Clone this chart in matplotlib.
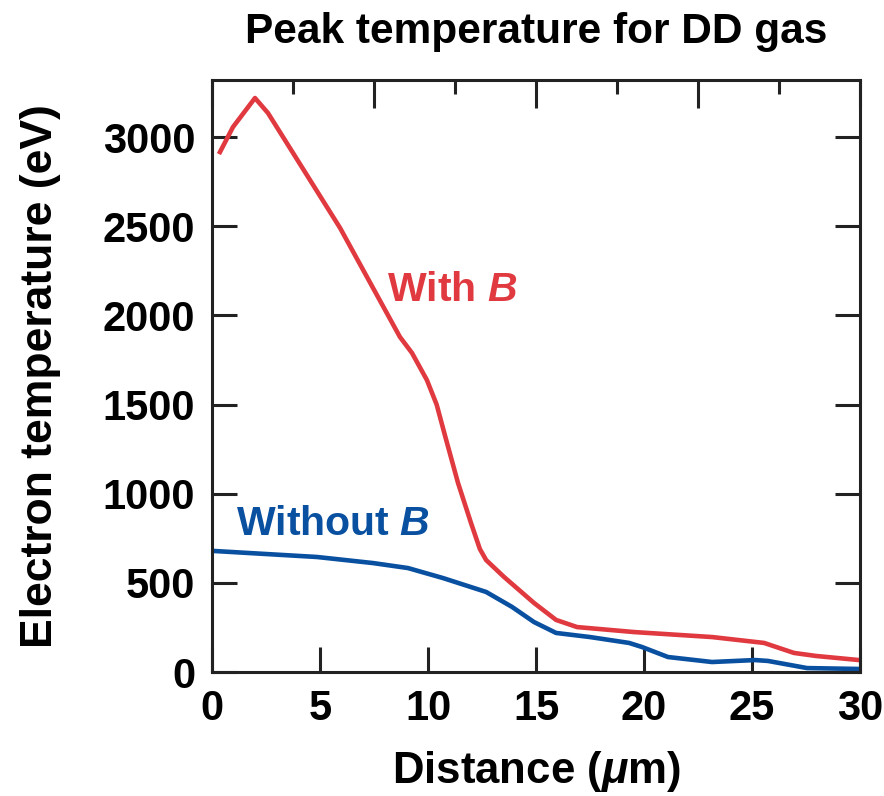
import matplotlib
matplotlib.use("Agg")
import matplotlib.pyplot as plt
import numpy as np

plt.rcParams['font.family'] = ['Liberation Sans', 'DejaVu Sans']
plt.rcParams['font.weight'] = 'bold'
plt.rcParams['mathtext.fontset'] = 'custom'
plt.rcParams['mathtext.it'] = 'Liberation Sans:italic:bold'
plt.rcParams['mathtext.rm'] = 'Liberation Sans:bold'

# with B (red)
x_with = [0.37, 0.97, 1.99, 2.59, 5.93, 8.70, 9.26, 9.95, 10.4, 10.8, 11.39, 11.99,
          12.4, 12.69, 13.52, 14.91, 15.93, 16.9, 19.54, 23.15, 25.56, 26.94, 27.96, 29.95]
t_with = [2916, 3056, 3219, 3135, 2490, 1879, 1789, 1637, 1500, 1320, 1060, 836,
          690, 628, 533, 387, 292, 252, 224, 196, 163, 107, 90, 67]

# without B (blue)
x_without = [0.05, 4.86, 7.45, 9.07, 10.69, 12.69, 13.89, 14.91, 15.93, 17.5,
             19.31, 19.91, 21.11, 23.15, 25.14, 25.74, 27.55, 29.95]
t_without = [679, 645, 611, 583, 527, 449, 365, 280, 219, 196,
             163, 140, 84, 56, 67, 62, 22, 17]

red = '#e03a40'
blue = '#0a50a0'

fig = plt.figure(figsize=(8.84, 7.96), dpi=100)
ax = fig.add_axes([212/884, 1 - 672/796, (860-212)/884, (672-80)/796])

ax.plot(x_with, t_with, color=red, lw=3.3, solid_joinstyle='round')
ax.plot(x_without, t_without, color=blue, lw=3.3, solid_joinstyle='round')

ax.set_xlim(0, 30)
ax.set_ylim(0, 3320)
ax.set_xticks(np.arange(0, 31, 5))
ax.set_yticks(np.arange(0, 3001, 500))

for sp in ax.spines.values():
    sp.set_linewidth(2.2)
    sp.set_color('#222222')

ax.tick_params(axis='both', which='major', direction='in', length=18, width=2.2,
               labelsize=30, pad=12, color='#222222', right=True)
ax.tick_params(axis='x', top=False)

top = ax.twiny()
top.set_xlim(0, 30)
top.set_xticks(np.arange(0, 31, 7.5))
top.set_xticks(np.arange(3.75, 30, 7.5), minor=True)
top.tick_params(axis='x', which='major', direction='in', length=20, width=2.2,
                color='#222222', labeltop=False)
top.tick_params(axis='x', which='minor', direction='in', length=10, width=2.2,
                color='#222222')
for sp in top.spines.values():
    sp.set_visible(False)

ax.text(8.1, 2140, 'With $B$', color=red, fontsize=29.5, fontweight='bold',
        ha='left', va='center')
ax.text(1.1, 830, 'Without $B$', color=blue, fontsize=29.5, fontweight='bold',
        ha='left', va='center')

ax.set_xlabel('Distance ($\\mu$m)', fontsize=31.5, fontweight='bold', labelpad=15)
ax.set_ylabel('Electron temperature (eV)', fontsize=32, fontweight='bold', labelpad=30)
fig.text(536/884, 1 - 32/796, 'Peak temperature for DD gas', fontsize=30.5,
         fontweight='bold', ha='center', va='center')

fig.savefig('out.png', dpi=100)
